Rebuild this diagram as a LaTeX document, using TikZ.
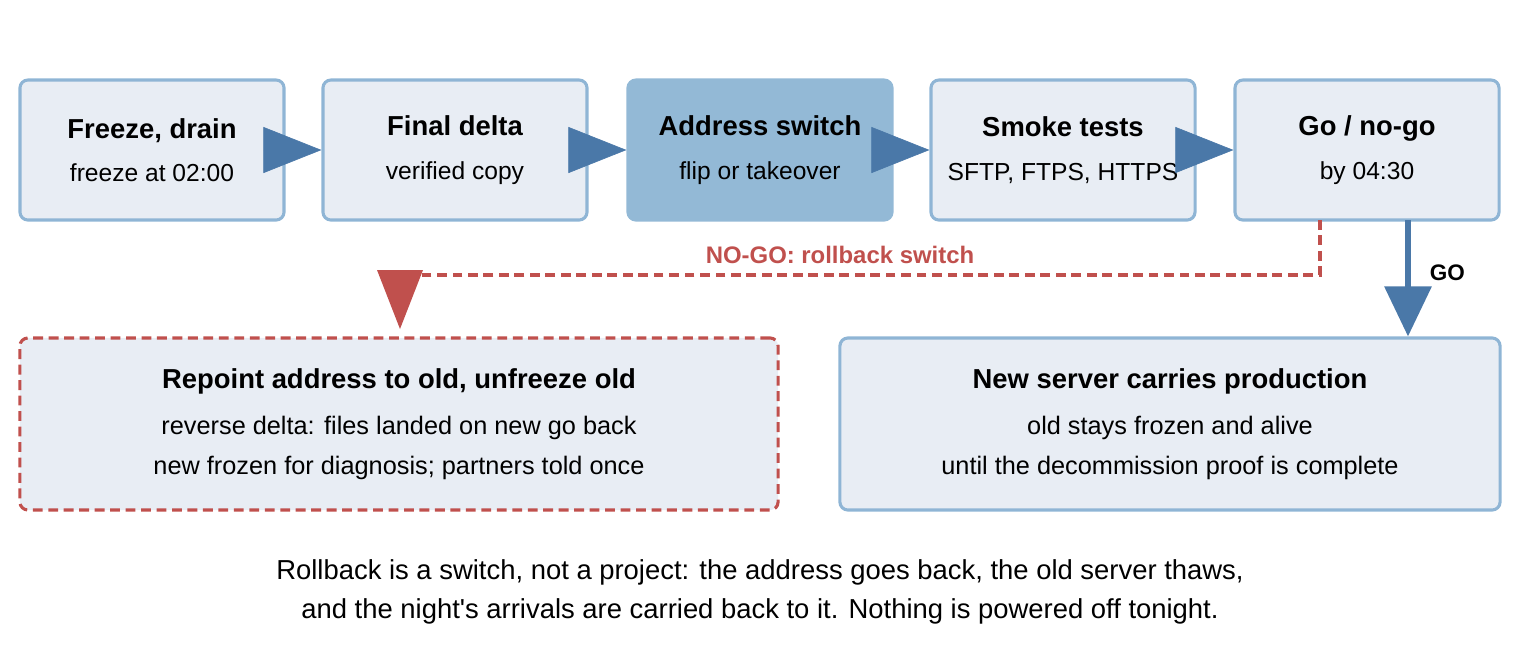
\documentclass[tikz,border=0pt]{standalone}
\usepackage{fontspec}
\setmainfont{Liberation Sans}
\usetikzlibrary{arrows.meta}
\definecolor{boxfill}{HTML}{E8EDF4}
\definecolor{boxline}{HTML}{8FB5D5}
\definecolor{hotfill}{HTML}{93B9D6}
\definecolor{flowblue}{HTML}{4A78A8}
\definecolor{backred}{HTML}{C0504D}
\tikzset{
  stage/.style={draw=boxline, line width=2.2pt, fill=boxfill, rounded corners=0.2cm,
    minimum width=6.6cm, minimum height=3.5cm, align=center,
    font=\fontsize{17.5}{31}\selectfont},
  hot/.style={stage, fill=hotfill, draw=hotfill},
  outcome/.style={stage, minimum height=4.3cm, font=\fontsize{18}{28.5}\selectfont},
  flow/.style={draw=flowblue, line width=0.4pt, -{Triangle[length=1.45cm,width=1.15cm]}, fill=flowblue},
  back/.style={draw=backred, line width=2.2pt, dash pattern=on 7pt off 4pt},
}
\newcommand{\ttl}[1]{{\fontsize{19.5}{31}\selectfont\bfseries #1}}
\begin{document}
\begin{tikzpicture}[x=0.025cm,y=-0.025cm]
\useasboundingbox (0,0) rectangle (1520,660);

\node[stage] (freeze) at (152,150) {\ttl{Freeze, drain}\\freeze at 02:00};
\node[stage] (delta) at (455,150) {\ttl{Final delta}\\verified copy};
\node[hot] (switch) at (760,150) {\ttl{Address switch}\\flip or takeover};
\node[stage] (smoke) at (1063,150) {\ttl{Smoke tests}\\SFTP, FTPS, HTTPS};
\node[stage] (gonogo) at (1367,150) {\ttl{Go / no-go}\\by 04:30};

\node[outcome, back, fill=boxfill, minimum width=18.95cm] (rollback) at (399,424)
  {\ttl{Repoint address to old, unfreeze old}\\[4pt]reverse delta: files landed on new go back\\new frozen for diagnosis; partners told once};
\node[outcome, minimum width=16.5cm] (prod) at (1170,424)
  {\ttl{New server carries production}\\[4pt]old stays frozen and alive\\until the decommission proof is complete};

\draw[flow] (freeze.east) -- (delta.west);
\draw[flow] (delta.east) -- (switch.west);
\draw[flow] (switch.east) -- (smoke.west);
\draw[flow] (smoke.east) -- (gonogo.west);

\coordinate (godrop) at (1408,220);
\draw[draw=flowblue, line width=4.5pt, -{Triangle[length=1.25cm,width=1.15cm]}] (godrop) -- (godrop |- prod.north)
  node[pos=0.45, right=10pt, font=\fontsize{16}{18}\selectfont\bfseries, text=black] {GO};

\coordinate (nogo) at (1320,220);
\coordinate (turn) at (1320,275);
\draw[back] (nogo) -- (turn) -- (turn -| 400,0) -- (400,300);
\fill[backred] (377,270) -- (423,270) -- (400,329) -- cycle;
\node[text=backred, font=\fontsize{17}{20}\selectfont\bfseries] (nogolabel) at (840,255) {NO-GO: rollback switch};

\node[align=center, font=\fontsize{19.5}{27.7}\selectfont] (caption) at (760,592)
  {Rollback is a switch, not a project: the address goes back, the old server thaws,\\and the night\textquotesingle s arrivals are carried back to it. Nothing is powered off tonight.};
\end{tikzpicture}
\end{document}
